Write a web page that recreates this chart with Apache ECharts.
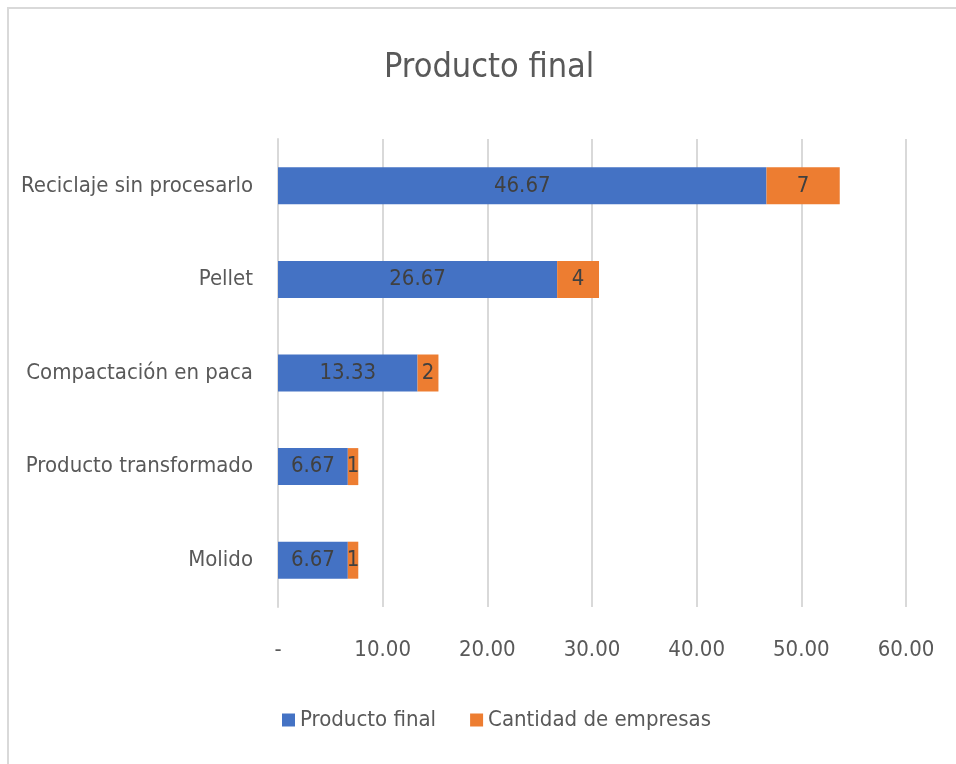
<!DOCTYPE html>
<html>
<head>
<meta charset="utf-8">
<script src="https://cdn.jsdelivr.net/npm/echarts@6/dist/echarts.min.js"></script>
<style>
html,body{margin:0;padding:0;background:#fff;}
#frame{position:absolute;left:7px;top:7px;width:949px;height:757px;border-left:2px solid #d9d9d9;border-top:2px solid #d9d9d9;box-sizing:border-box;}
#chart{position:absolute;left:0;top:0;width:956px;height:764px;}
</style>
</head>
<body>
<div id="frame"></div>
<div id="chart"></div>
<script>
var categories = ["Molido", "Producto transformado", "Compactación en paca", "Pellet", "Reciclaje sin procesarlo"];
var productoFinal = [6.67, 6.67, 13.33, 26.67, 46.67];
var cantidadEmpresas = [1, 1, 2, 4, 7];
var seriesNames = ["Producto final", "Cantidad de empresas"];
var FONT = "'Liberation Sans Narrow', 'DejaVu Sans Condensed', sans-serif";

var chart = echarts.init(document.getElementById('chart'), null, {renderer: 'canvas'});
chart.setOption({
  backgroundColor: 'transparent',
  animation: false,
  title: {
    text: 'Producto final',
    left: 379,
    top: 46,
    textStyle: {fontFamily: FONT, fontSize: 34, fontWeight: 'normal', color: '#595959'}
  },
  legend: {
    bottom: 28,
    left: 277,
    itemWidth: 13,
    itemHeight: 13,
    itemGap: 34,
    icon: 'rect',
    textStyle: {fontFamily: FONT, fontSize: 22, color: '#595959'},
    data: seriesNames
  },
  grid: {left: 278, right: 50, top: 139, bottom: 157, containLabel: false},
  xAxis: {
    type: 'value',
    min: 0, max: 60, interval: 10,
    axisLine: {show: false},
    axisTick: {show: false},
    splitLine: {lineStyle: {color: '#d9d9d9', width: 2}},
    axisLabel: {
      margin: 32,
      fontFamily: FONT, fontSize: 22, color: '#595959',
      formatter: function (v) { return v === 0 ? '-' : v.toFixed(2); }
    }
  },
  yAxis: {
    type: 'category',
    data: categories,
    axisLine: {lineStyle: {color: '#d9d9d9', width: 2}},
    axisTick: {show: false},
    axisLabel: {margin: 25, fontFamily: FONT, fontSize: 22, color: '#595959'}
  },
  series: [
    {
      name: seriesNames[0], type: 'bar', stack: 's', data: productoFinal,
      barWidth: 37,
      itemStyle: {color: '#4472c4'},
      label: {show: true, position: 'inside', fontFamily: FONT, fontSize: 22, color: '#404040',
        formatter: function (p) { return p.value.toFixed(2); }}
    },
    {
      name: seriesNames[1], type: 'bar', stack: 's', data: cantidadEmpresas,
      barWidth: 37,
      itemStyle: {color: '#ed7d31'},
      label: {show: true, position: 'inside', fontFamily: FONT, fontSize: 22, color: '#404040'}
    }
  ]
});
</script>
</body>
</html>
